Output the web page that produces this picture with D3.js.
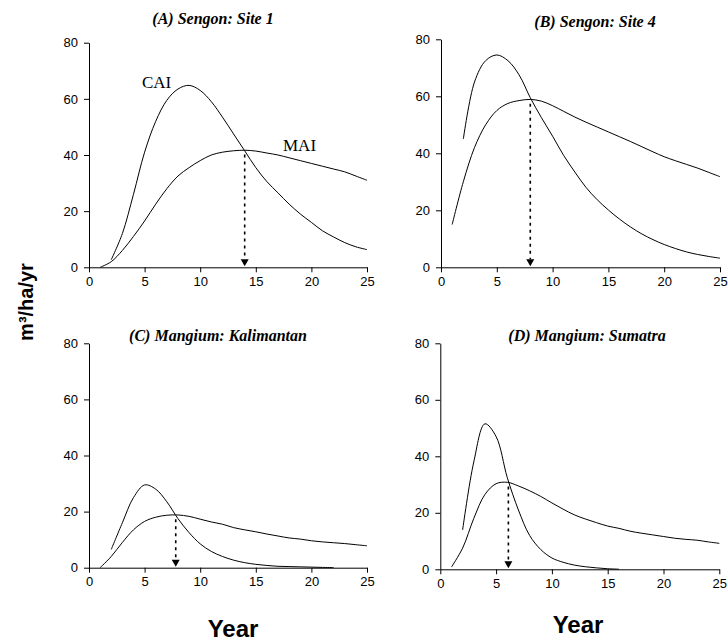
<!DOCTYPE html>
<html>
<head>
<meta charset="utf-8">
<script src="https://cdn.jsdelivr.net/npm/d3@7"></script>
<style>
  body { margin: 0; background: #fff; }
  svg { display: block; }
</style>
</head>
<body>
<svg id="chart"></svg>
<script>
// panel titles and the optimum rotation age (where CAI crosses MAI)
const titles = ["(A) Sengon: Site 1", "(B) Sengon: Site 4", "(C) Mangium: Kalimantan", "(D) Mangium: Sumatra"];
const optAge = [14.0, 8.0, 7.8, 6.1];
const optValue = [41.6, 58.8, 18.7, 30.7];

const xTicks = [0, 5, 10, 15, 20, 25];
const yTicks = [0, 20, 40, 60, 80];

// years
const maiYears = [1, 2, 3, 4, 5, 6, 7, 8, 9, 10, 11, 12, 13, 14, 15, 16, 17, 18, 19, 20, 21, 22, 23, 24, 25];
const caiYears = [2, 3, 4, 5, 6, 7, 8, 9, 10, 11, 12, 13, 14, 15, 16, 17, 18, 19, 20, 21, 22, 23, 24, 25];
const caiYearsC = [2, 3, 4, 5, 6, 7, 8, 9, 10, 11, 12, 13, 14, 15, 16, 17, 18, 19, 20, 21, 22];
const caiYearsD = [2, 3, 4, 5, 6, 7, 8, 9, 10, 11, 12, 13, 14, 15, 16];

// (A) Sengon site 1
const caiA = [2.7, 12, 26, 41, 52, 59.5, 63.5, 64.8, 63, 59, 53.5, 47.5, 41.5, 35.5, 30.5, 26.5, 22.5, 19, 16, 13, 10.8, 8.8, 7.3, 6.3];
const maiA = [0, 2, 6, 11, 16.5, 22.5, 28, 32.5, 35.5, 38, 40, 41, 41.5, 41.7, 41.4, 40.7, 40, 39, 38, 37, 36, 35, 34, 32.5, 31];

// (B) Sengon site 4
const caiB = [45, 65, 72.5, 74.5, 72.5, 67.5, 59.5, 52.5, 46, 39.2, 33.4, 28, 23.7, 20.1, 16.9, 14.1, 11.7, 9.7, 8.0, 6.6, 5.4, 4.5, 3.8, 3.2];
const maiB = [15, 30, 42, 50, 55, 57.5, 58.5, 58.9, 58.3, 56.7, 54.7, 52.7, 50.9, 49.2, 47.5, 45.8, 44.1, 42.3, 40.5, 38.8, 37.4, 36.1, 34.8, 33.3, 31.8];

// (C) Mangium Kalimantan
const caiC = [6.5, 16, 25, 29.5, 28, 23.5, 17.5, 12.5, 8.5, 5.8, 4, 2.7, 1.8, 1.2, 0.8, 0.5, 0.4, 0.3, 0.2, 0.1, 0.05];
const maiC = [0, 4, 9, 13.5, 16.5, 18, 18.7, 18.8, 18.3, 17.3, 16.3, 15.5, 14.3, 13.5, 12.8, 12, 11.3, 10.6, 10.2, 9.6, 9.2, 8.9, 8.6, 8.2, 7.8];

// (D) Mangium Sumatra
const caiD = [13.9, 38, 51.5, 47, 32.5, 21, 12, 7, 4, 2.5, 1.5, 0.9, 0.5, 0.2, 0.05];
const maiD = [0.8, 7.5, 18, 26.5, 30.3, 30.8, 29.5, 27.8, 25.8, 23.5, 21.3, 19.3, 17.8, 16.5, 15.3, 14.5, 13.5, 12.8, 12.2, 11.6, 11, 10.6, 10.3, 9.7, 9.2];

const W = 728, H = 644;
const sans = "'Liberation Sans', Arial, sans-serif";
const serif = "'Liberation Serif', 'Times New Roman', serif";

let svg = d3.select("#chart").attr("width", W).attr("height", H);

// layout of the four panels
const panels = [
  {title: titles[0], caiX: caiYears,  cai: caiA, mai: maiA, opt: optAge[0], optV: optValue[0],
   xr: [89, 367], yr: [267.3, 42.7], tx: 213, ty: 24},
  {title: titles[1], caiX: caiYears,  cai: caiB, mai: maiB, opt: optAge[1], optV: optValue[1],
   xr: [441, 720], yr: [267.3, 39.3], tx: 595, ty: 27},
  {title: titles[2], caiX: caiYearsC, cai: caiC, mai: maiC, opt: optAge[2], optV: optValue[2],
   xr: [89, 367], yr: [567.7, 343.3], tx: 218, ty: 341},
  {title: titles[3], caiX: caiYearsD, cai: caiD, mai: maiD, opt: optAge[3], optV: optValue[3],
   xr: [440.3, 719.3], yr: [569.3, 343.3], tx: 587, ty: 341}
];

panels.forEach(function(p, idx){
  let g = svg.append("g").attr("class", "panel");

  let x = d3.scaleLinear().domain([0, 25]).range(p.xr);
  let y = d3.scaleLinear().domain([0, 80]).range(p.yr);

  let xAxis = d3.axisBottom(x).tickValues(xTicks).tickSize(5).tickSizeOuter(0).tickPadding(4);
  let yAxis = d3.axisLeft(y).tickValues(yTicks).tickSize(5).tickSizeOuter(0).tickPadding(6);

  let gx = g.append("g")
    .attr("transform", "translate(0," + p.yr[0] + ")")
    .call(xAxis);
  let gy = g.append("g")
    .attr("transform", "translate(" + p.xr[0] + ",0)")
    .call(yAxis);

  [gx, gy].forEach(function(a){
    a.selectAll("path, line").attr("stroke", "#000").attr("stroke-width", 1);
    a.selectAll("text")
      .attr("fill", "#000")
      .style("font-family", sans)
      .style("font-size", "13px");
  });

  let line = d3.line()
    .x(function(d){ return x(d[0]); })
    .y(function(d){ return y(d[1]); })
    .curve(d3.curveCatmullRom);

  g.append("path")
    .datum(d3.zip(maiYears, p.mai))
    .attr("d", line)
    .attr("fill", "none")
    .attr("stroke", "#000")
    .attr("stroke-width", 1);

  g.append("path")
    .datum(d3.zip(p.caiX, p.cai))
    .attr("d", line)
    .attr("fill", "none")
    .attr("stroke", "#000")
    .attr("stroke-width", 1);

  // dotted arrow down to the optimum age
  let ax = x(p.opt);
  g.append("line")
    .attr("x1", ax).attr("x2", ax)
    .attr("y1", y(p.optV) + 4)
    .attr("y2", y(0) - 8)
    .attr("stroke", "#000")
    .attr("stroke-width", 1.6)
    .attr("stroke-dasharray", "3,4");
  g.append("path")
    .attr("d", "M" + (ax - 4) + "," + (y(0) - 8) + "L" + (ax + 4) + "," + (y(0) - 8) + "L" + ax + "," + (y(0) - 1) + "Z")
    .attr("fill", "#000");

  g.append("text")
    .attr("x", p.tx)
    .attr("y", p.ty)
    .attr("text-anchor", "middle")
    .style("font-family", serif)
    .style("font-weight", "bold")
    .style("font-style", "italic")
    .style("font-size", "16px")
    .text(p.title);

  if(idx == 0){
    g.append("text")
      .attr("x", 142).attr("y", 88)
      .style("font-family", serif).style("font-size", "17px")
      .text("CAI");
    g.append("text")
      .attr("x", 283).attr("y", 151)
      .style("font-family", serif).style("font-size", "17px")
      .text("MAI");
  }
});

// shared axis titles
svg.append("text")
  .attr("transform", "translate(33,302) rotate(-90)")
  .attr("text-anchor", "middle")
  .style("font-family", sans)
  .style("font-weight", "bold")
  .style("font-size", "20px")
  .text("m³/ha/yr");

svg.append("text")
  .attr("x", 233).attr("y", 637)
  .attr("text-anchor", "middle")
  .style("font-family", sans)
  .style("font-weight", "bold")
  .style("font-size", "24px")
  .text("Year");

svg.append("text")
  .attr("x", 578).attr("y", 633)
  .attr("text-anchor", "middle")
  .style("font-family", sans)
  .style("font-weight", "bold")
  .style("font-size", "24px")
  .text("Year");
</script>
</body>
</html>
